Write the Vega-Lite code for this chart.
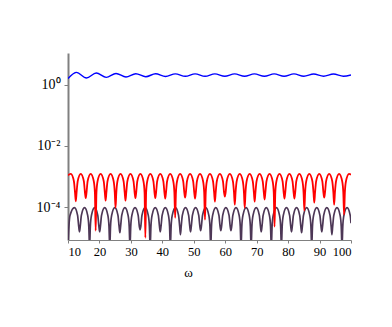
{
"$schema": "https://vega.github.io/schema/vega-lite/v6.json",
"width": 283, "height": 187,
"autosize": {"type": "none"},
"padding": {"left": 68, "top": 53, "right": 41, "bottom": 87},
"background": "white",
"config": {"view": {"stroke": null}, "axis": {"labelFont": "Liberation Serif", "titleFont": "Liberation Serif", "labelColor": "black", "titleColor": "black"}},
"datasets": {
"blue": [
{"w":10,"v":1.57},{"w":12.70,"v":2.52},{"w":15.87,"v":1.65},{"w":18.99,"v":2.41},{"w":22.16,"v":1.73},{"w":25.27,"v":2.32},{"w":28.44,"v":1.78},{"w":31.56,"v":2.28},{"w":34.73,"v":1.82},{"w":37.84,"v":2.26},{"w":41.02,"v":1.85},{"w":44.13,"v":2.25},{"w":47.30,"v":1.87},{"w":50.42,"v":2.25},{"w":53.59,"v":1.87},{"w":56.70,"v":2.25},{"w":59.87,"v":1.88},{"w":62.99,"v":2.24},{"w":66.16,"v":1.88},{"w":69.27,"v":2.24},{"w":72.45,"v":1.88},{"w":75.56,"v":2.24},{"w":78.73,"v":1.89},{"w":81.85,"v":2.24},{"w":85.02,"v":1.89},{"w":88.13,"v":2.23},{"w":91.30,"v":1.89},{"w":94.42,"v":2.23},{"w":97.59,"v":1.89},{"w":100,"v":2.07}
],
"red": [
{"w":10,"v":1.1e-3},{"w":10.9,"v":1.22e-3},
{"w":11.88,"v":7.0e-4},{"w":12.23,"v":3.0e-4},{"w":12.48,"v":1.55e-4},{"w":12.73,"v":3.0e-4},{"w":13.08,"v":7.0e-4},{"w":14.06,"v":1.22e-3},
{"w":15.04,"v":7.0e-4},{"w":15.39,"v":3.0e-4},{"w":15.64,"v":1.97e-4},{"w":15.89,"v":3.0e-4},{"w":16.24,"v":7.0e-4},{"w":17.22,"v":1.22e-3},
{"w":18.20,"v":7.0e-4},{"w":18.55,"v":3.0e-4},{"w":18.80,"v":1.7e-5},{"w":19.05,"v":3.0e-4},{"w":19.40,"v":7.0e-4},{"w":20.38,"v":1.22e-3},
{"w":21.36,"v":7.0e-4},{"w":21.71,"v":3.0e-4},{"w":21.96,"v":1.63e-4},{"w":22.21,"v":3.0e-4},{"w":22.56,"v":7.0e-4},{"w":23.54,"v":1.22e-3},
{"w":24.52,"v":7.0e-4},{"w":24.87,"v":3.0e-4},{"w":25.12,"v":9.6e-5},{"w":25.37,"v":3.0e-4},{"w":25.72,"v":7.0e-4},{"w":26.70,"v":1.22e-3},
{"w":27.68,"v":7.0e-4},{"w":28.03,"v":3.0e-4},{"w":28.28,"v":1.63e-4},{"w":28.53,"v":3.0e-4},{"w":28.88,"v":7.0e-4},{"w":29.86,"v":1.22e-3},
{"w":30.84,"v":7.0e-4},{"w":31.19,"v":3.0e-4},{"w":31.44,"v":1.97e-4},{"w":31.69,"v":3.0e-4},{"w":32.04,"v":7.0e-4},{"w":33.02,"v":1.22e-3},
{"w":34.00,"v":7.0e-4},{"w":34.35,"v":3.0e-4},{"w":34.60,"v":1.0e-5},{"w":34.85,"v":3.0e-4},{"w":35.20,"v":7.0e-4},{"w":36.18,"v":1.22e-3},
{"w":37.16,"v":7.0e-4},{"w":37.51,"v":3.0e-4},{"w":37.76,"v":1.97e-4},{"w":38.01,"v":3.0e-4},{"w":38.36,"v":7.0e-4},{"w":39.34,"v":1.22e-3},
{"w":40.32,"v":7.0e-4},{"w":40.67,"v":3.0e-4},{"w":40.92,"v":1.9e-4},{"w":41.17,"v":3.0e-4},{"w":41.52,"v":7.0e-4},{"w":42.50,"v":1.22e-3},
{"w":43.48,"v":7.0e-4},{"w":43.83,"v":3.0e-4},{"w":44.08,"v":4.5e-5},{"w":44.33,"v":3.0e-4},{"w":44.68,"v":7.0e-4},{"w":45.66,"v":1.22e-3},
{"w":46.64,"v":7.0e-4},{"w":46.99,"v":3.0e-4},{"w":47.24,"v":2.05e-4},{"w":47.49,"v":3.0e-4},{"w":47.84,"v":7.0e-4},{"w":48.82,"v":1.22e-3},
{"w":49.80,"v":7.0e-4},{"w":50.15,"v":3.0e-4},{"w":50.40,"v":1.9e-4},{"w":50.65,"v":3.0e-4},{"w":51.00,"v":7.0e-4},{"w":51.98,"v":1.22e-3},
{"w":52.96,"v":7.0e-4},{"w":53.31,"v":3.0e-4},{"w":53.56,"v":3.9e-5},{"w":53.81,"v":3.0e-4},{"w":54.16,"v":7.0e-4},{"w":55.14,"v":1.22e-3},
{"w":56.12,"v":7.0e-4},{"w":56.47,"v":3.0e-4},{"w":56.72,"v":1.51e-4},{"w":56.97,"v":3.0e-4},{"w":57.32,"v":7.0e-4},{"w":58.30,"v":1.22e-3},
{"w":59.28,"v":7.0e-4},{"w":59.63,"v":3.0e-4},{"w":59.88,"v":2.21e-4},{"w":60.13,"v":3.0e-4},{"w":60.48,"v":7.0e-4},{"w":61.46,"v":1.22e-3},
{"w":62.44,"v":7.0e-4},{"w":62.79,"v":3.0e-4},{"w":63.04,"v":1.21e-4},{"w":63.29,"v":3.0e-4},{"w":63.64,"v":7.0e-4},{"w":64.62,"v":1.22e-3},
{"w":65.60,"v":7.0e-4},{"w":65.95,"v":3.0e-4},{"w":66.20,"v":9.6e-5},{"w":66.45,"v":3.0e-4},{"w":66.80,"v":7.0e-4},{"w":67.78,"v":1.22e-3},
{"w":68.76,"v":7.0e-4},{"w":69.11,"v":3.0e-4},{"w":69.36,"v":1.51e-4},{"w":69.61,"v":3.0e-4},{"w":69.96,"v":7.0e-4},{"w":70.94,"v":1.22e-3},
{"w":71.92,"v":7.0e-4},{"w":72.27,"v":3.0e-4},{"w":72.52,"v":1.76e-4},{"w":72.77,"v":3.0e-4},{"w":73.12,"v":7.0e-4},{"w":74.10,"v":1.22e-3},
{"w":75.08,"v":7.0e-4},{"w":75.43,"v":3.0e-4},{"w":75.68,"v":2.3e-5},{"w":75.93,"v":3.0e-4},{"w":76.28,"v":7.0e-4},{"w":77.26,"v":1.22e-3},
{"w":78.24,"v":7.0e-4},{"w":78.59,"v":3.0e-4},{"w":78.84,"v":1.9e-4},{"w":79.09,"v":3.0e-4},{"w":79.44,"v":7.0e-4},{"w":80.42,"v":1.22e-3},
{"w":81.40,"v":7.0e-4},{"w":81.75,"v":3.0e-4},{"w":82.00,"v":1.9e-4},{"w":82.25,"v":3.0e-4},{"w":82.60,"v":7.0e-4},{"w":83.58,"v":1.22e-3},
{"w":84.56,"v":7.0e-4},{"w":84.91,"v":3.0e-4},{"w":85.16,"v":7.7e-5},{"w":85.41,"v":3.0e-4},{"w":85.76,"v":7.0e-4},{"w":86.74,"v":1.22e-3},
{"w":87.72,"v":7.0e-4},{"w":88.07,"v":3.0e-4},{"w":88.32,"v":1.41e-4},{"w":88.57,"v":3.0e-4},{"w":88.92,"v":7.0e-4},{"w":89.90,"v":1.22e-3},
{"w":90.88,"v":7.0e-4},{"w":91.23,"v":3.0e-4},{"w":91.48,"v":2.05e-4},{"w":91.73,"v":3.0e-4},{"w":92.08,"v":7.0e-4},{"w":93.06,"v":1.22e-3},
{"w":94.04,"v":7.0e-4},{"w":94.39,"v":3.0e-4},{"w":94.64,"v":1.21e-4},{"w":94.89,"v":3.0e-4},{"w":95.24,"v":7.0e-4},{"w":96.22,"v":1.22e-3},
{"w":97.20,"v":7.0e-4},{"w":97.55,"v":3.0e-4},{"w":97.80,"v":5.7e-5},{"w":98.05,"v":3.0e-4},{"w":98.40,"v":7.0e-4},{"w":99.38,"v":1.22e-3},
{"w":100,"v":1.15e-3}
],
"purple": [
{"w":10,"v":5e-6},{"w":10.3,"v":2.4e-5},{"w":10.65,"v":5.4e-5},{"w":12.05,"v":9.6e-5},
{"w":13.05,"v":5.4e-5},{"w":13.40,"v":2.4e-5},{"w":13.65,"v":1.57e-5},{"w":13.90,"v":2.4e-5},{"w":14.25,"v":5.4e-5},{"w":15.26,"v":9.6e-5},
{"w":16.26,"v":5.4e-5},{"w":16.61,"v":2.4e-5},{"w":16.86,"v":5e-6},{"w":17.11,"v":2.4e-5},{"w":17.46,"v":5.4e-5},{"w":18.47,"v":9.6e-5},
{"w":19.47,"v":5.4e-5},{"w":19.82,"v":2.4e-5},{"w":20.07,"v":1.57e-5},{"w":20.32,"v":2.4e-5},{"w":20.67,"v":5.4e-5},{"w":21.68,"v":9.6e-5},
{"w":22.68,"v":5.4e-5},{"w":23.03,"v":2.4e-5},{"w":23.28,"v":5e-6},{"w":23.53,"v":2.4e-5},{"w":23.88,"v":5.4e-5},{"w":24.89,"v":9.6e-5},
{"w":25.89,"v":5.4e-5},{"w":26.24,"v":2.4e-5},{"w":26.49,"v":1.46e-5},{"w":26.74,"v":2.4e-5},{"w":27.09,"v":5.4e-5},{"w":28.10,"v":9.6e-5},
{"w":29.11,"v":5.4e-5},{"w":29.46,"v":2.4e-5},{"w":29.71,"v":5e-6},{"w":29.96,"v":2.4e-5},{"w":30.31,"v":5.4e-5},{"w":31.32,"v":9.6e-5},
{"w":32.32,"v":5.4e-5},{"w":32.67,"v":2.4e-5},{"w":32.92,"v":1.83e-5},{"w":33.17,"v":2.4e-5},{"w":33.52,"v":5.4e-5},{"w":34.53,"v":9.6e-5},
{"w":35.53,"v":5.4e-5},{"w":35.88,"v":2.4e-5},{"w":36.13,"v":5e-6},{"w":36.38,"v":2.4e-5},{"w":36.73,"v":5.4e-5},{"w":37.74,"v":9.6e-5},
{"w":38.74,"v":5.4e-5},{"w":39.09,"v":2.4e-5},{"w":39.34,"v":1.57e-5},{"w":39.59,"v":2.4e-5},{"w":39.94,"v":5.4e-5},{"w":40.95,"v":9.6e-5},
{"w":41.95,"v":5.4e-5},{"w":42.30,"v":2.4e-5},{"w":42.55,"v":5e-6},{"w":42.80,"v":2.4e-5},{"w":43.15,"v":5.4e-5},{"w":44.16,"v":9.6e-5},
{"w":45.16,"v":5.4e-5},{"w":45.51,"v":2.4e-5},{"w":45.76,"v":1.26e-5},{"w":46.01,"v":2.4e-5},{"w":46.36,"v":5.4e-5},{"w":47.37,"v":9.6e-5},
{"w":48.37,"v":5.4e-5},{"w":48.72,"v":2.4e-5},{"w":48.97,"v":1.57e-5},{"w":49.22,"v":2.4e-5},{"w":49.57,"v":5.4e-5},{"w":50.58,"v":9.6e-5},
{"w":51.58,"v":5.4e-5},{"w":51.93,"v":2.4e-5},{"w":52.18,"v":1.7e-5},{"w":52.43,"v":2.4e-5},{"w":52.78,"v":5.4e-5},{"w":53.79,"v":9.6e-5},
{"w":54.79,"v":5.4e-5},{"w":55.14,"v":2.4e-5},{"w":55.39,"v":5e-6},{"w":55.64,"v":2.4e-5},{"w":55.99,"v":5.4e-5},{"w":57.00,"v":9.6e-5},
{"w":58.00,"v":5.4e-5},{"w":58.35,"v":2.4e-5},{"w":58.60,"v":1.7e-5},{"w":58.85,"v":2.4e-5},{"w":59.20,"v":5.4e-5},{"w":60.21,"v":9.6e-5},
{"w":61.22,"v":5.4e-5},{"w":61.57,"v":2.4e-5},{"w":61.82,"v":1.7e-5},{"w":62.07,"v":2.4e-5},{"w":62.42,"v":5.4e-5},{"w":63.43,"v":9.6e-5},
{"w":64.43,"v":5.4e-5},{"w":64.78,"v":2.4e-5},{"w":65.03,"v":5e-6},{"w":65.28,"v":2.4e-5},{"w":65.63,"v":5.4e-5},{"w":66.64,"v":9.6e-5},
{"w":67.64,"v":5.4e-5},{"w":67.99,"v":2.4e-5},{"w":68.24,"v":5e-6},{"w":68.49,"v":2.4e-5},{"w":68.84,"v":5.4e-5},{"w":69.85,"v":9.6e-5},
{"w":70.85,"v":5.4e-5},{"w":71.20,"v":2.4e-5},{"w":71.45,"v":1.57e-5},{"w":71.70,"v":2.4e-5},{"w":72.05,"v":5.4e-5},{"w":73.06,"v":9.6e-5},
{"w":74.06,"v":5.4e-5},{"w":74.41,"v":2.4e-5},{"w":74.66,"v":5e-6},{"w":74.91,"v":2.4e-5},{"w":75.26,"v":5.4e-5},{"w":76.27,"v":9.6e-5},
{"w":77.27,"v":5.4e-5},{"w":77.62,"v":2.4e-5},{"w":77.87,"v":5e-6},{"w":78.12,"v":2.4e-5},{"w":78.47,"v":5.4e-5},{"w":79.48,"v":9.6e-5},
{"w":80.48,"v":5.4e-5},{"w":80.83,"v":2.4e-5},{"w":81.08,"v":1.57e-5},{"w":81.33,"v":2.4e-5},{"w":81.68,"v":5.4e-5},{"w":82.69,"v":9.6e-5},
{"w":83.69,"v":5.4e-5},{"w":84.04,"v":2.4e-5},{"w":84.29,"v":1.46e-5},{"w":84.54,"v":2.4e-5},{"w":84.89,"v":5.4e-5},{"w":85.90,"v":9.6e-5},
{"w":86.90,"v":5.4e-5},{"w":87.25,"v":2.4e-5},{"w":87.50,"v":5e-6},{"w":87.75,"v":2.4e-5},{"w":88.10,"v":5.4e-5},{"w":89.11,"v":9.6e-5},
{"w":90.11,"v":5.4e-5},{"w":90.46,"v":2.4e-5},{"w":90.71,"v":1.57e-5},{"w":90.96,"v":2.4e-5},{"w":91.31,"v":5.4e-5},{"w":92.32,"v":9.6e-5},
{"w":93.33,"v":5.4e-5},{"w":93.68,"v":2.4e-5},{"w":93.93,"v":1.26e-5},{"w":94.18,"v":2.4e-5},{"w":94.53,"v":5.4e-5},{"w":95.54,"v":9.6e-5},
{"w":96.54,"v":5.4e-5},{"w":96.89,"v":2.4e-5},{"w":97.14,"v":5e-6},{"w":97.39,"v":2.4e-5},{"w":97.74,"v":5.4e-5},{"w":98.75,"v":9.6e-5},
{"w":99.75,"v":5.4e-5},{"w":100,"v":3.0e-5}
]
},
"encoding": {
"x": {"field": "w", "type": "quantitative", "scale": {"domain": [10, 100], "nice": false, "zero": false},
  "axis": {"values": [10,20,30,40,50,60,70,80,90,100], "title": "ω", "grid": false, "domainColor": "#808080", "domainWidth": 1, "tickColor": "#808080", "tickSize": 3, "labelFontSize": 12.5, "labelPadding": 2, "titleFontSize": 13, "titleFontWeight": "normal", "titleX": 120, "titleY": 32, "titleBaseline": "middle", "titleAlign": "center"}},
"y": {"field": "v", "type": "quantitative", "scale": {"type": "log", "domain": [8.45e-6, 10.8], "nice": false},
  "axis": {"values": [0.0001, 0.01, 1], "labelExpr": "datum.value > 0.5 ? '10⁰' : datum.value > 0.005 ? '10⁻²' : '10⁻⁴'", "title": null, "grid": false, "domainColor": "#808080", "domainWidth": 2, "tickColor": "#808080", "tickSize": 4, "labelFontSize": 14, "labelPadding": 4}}
},
"layer": [
{"data": {"name": "purple"}, "mark": {"type": "line", "color": "#4d3756", "strokeWidth": 1.7, "interpolate": "monotone", "clip": true}},
{"data": {"name": "red"}, "mark": {"type": "line", "color": "#ff0000", "strokeWidth": 1.8, "interpolate": "monotone", "clip": true}},
{"data": {"name": "blue"}, "mark": {"type": "line", "color": "#0000ff", "strokeWidth": 1.4, "interpolate": "monotone", "clip": true}}
]
}
